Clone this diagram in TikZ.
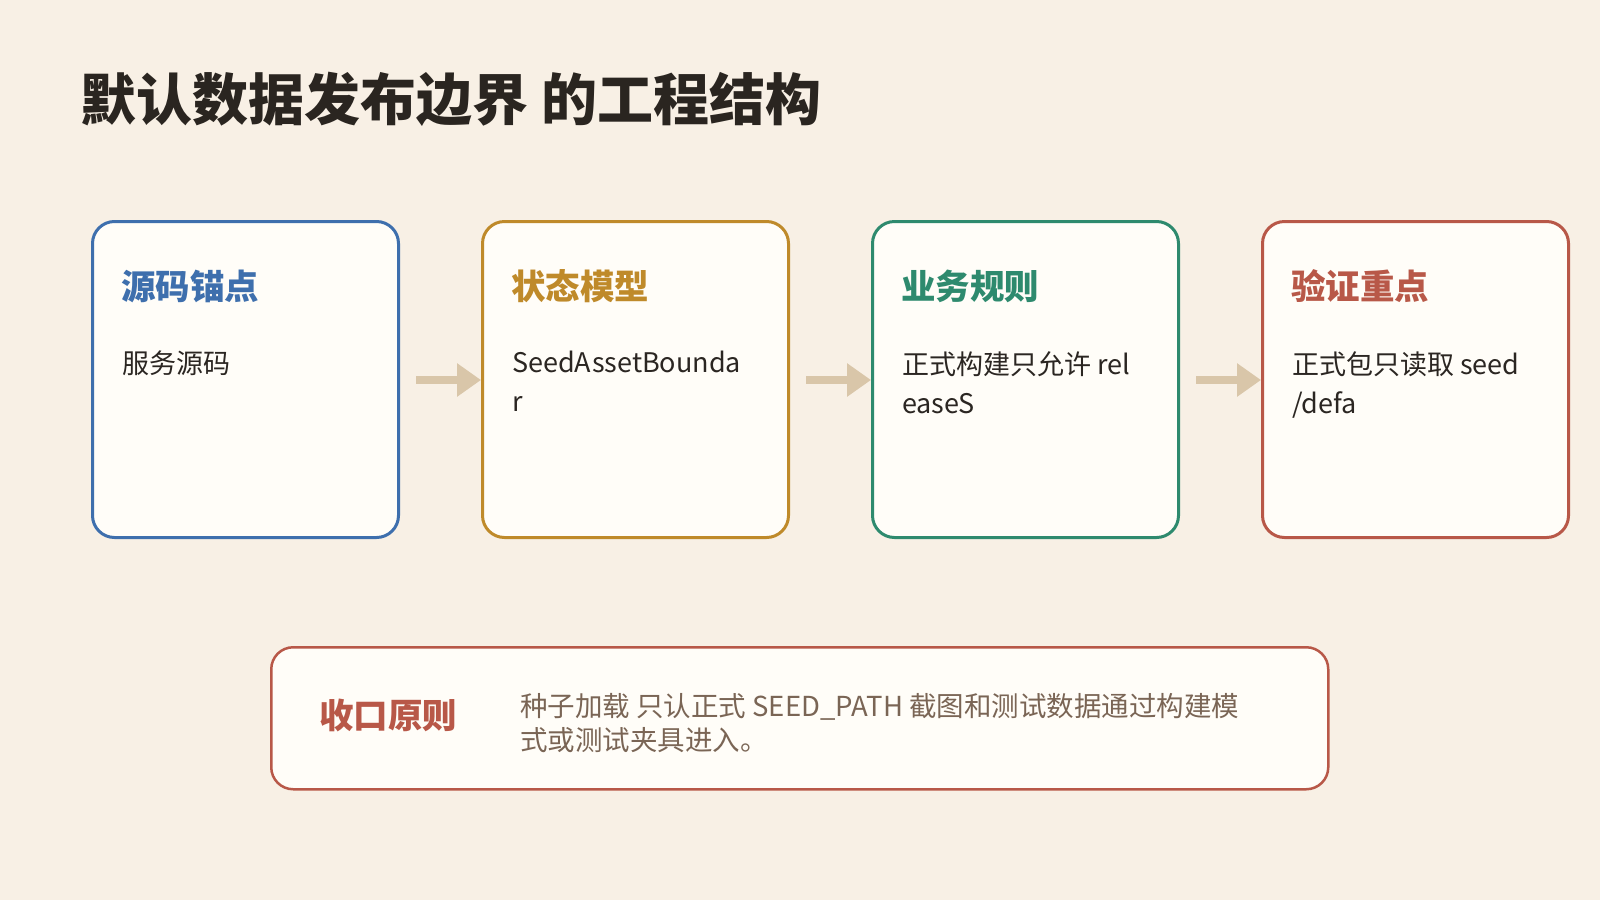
\documentclass[tikz,border=0pt]{standalone}
\usepackage{fontspec}
\setmainfont{Noto Sans CJK SC}
\usetikzlibrary{arrows.meta}
\definecolor{bg}{HTML}{F8F0E5}
\definecolor{cardfill}{HTML}{FFFDF8}
\definecolor{cblue}{HTML}{3E6FAD}
\definecolor{cgold}{HTML}{BF8A2A}
\definecolor{cgreen}{HTML}{2E8A6E}
\definecolor{cred}{HTML}{B85848}
\definecolor{titlec}{HTML}{2A2520}
\definecolor{bodyc}{HTML}{2B2622}
\definecolor{notec}{HTML}{7A6555}
\definecolor{arrowc}{HTML}{D9C6A9}
\tikzset{
  card/.style={draw=#1, line width=3pt, fill=cardfill, rounded corners=22pt, minimum width=306pt, minimum height=316pt, anchor=north west, inner sep=0pt},
  heading/.style={text=#1, font=\fontsize{34.5}{40}\selectfont\bfseries, anchor=base west, inner sep=0pt},
  body/.style={text=bodyc, font=\fontsize{27}{39}\selectfont, anchor=north west, align=left, inner sep=0pt},
  flow/.style={draw=arrowc, line width=8pt, -{Triangle[length=24pt,width=32pt]}, shorten <=16pt},
}
\begin{document}
\begin{tikzpicture}[x=1pt,y=-1pt]
\useasboundingbox[fill=bg] (0,0) rectangle (1600,900);
\node[text=titlec, font=\fontsize{56}{64}\selectfont\bfseries, anchor=base west, inner sep=0pt] (title) at (80,120) {默认数据发布边界 的工程结构};

\node[card=cblue] (b1) at (91,220) {};
\node[card=cgold] (b2) at (481,220) {};
\node[card=cgreen] (b3) at (871,220) {};
\node[card=cred] (b4) at (1261,220) {};

\node[heading=cblue] (h1) at (121,299) {源码锚点};
\node[heading=cgold] (h2) at (511,299) {状态模型};
\node[heading=cgreen] (h3) at (901,299) {业务规则};
\node[heading=cred] (h4) at (1291,299) {验证重点};

\node[body] (t1) at (122,351) {服务源码};
\node[body] (t2) at (512,351) {SeedAssetBounda\\r};
\node[body] (t3) at (902,351) {正式构建只允许 rel\\easeS};
\node[body] (t4) at (1292,351) {正式包只读取 seed\\/defa};

\draw[flow] (b1.east |- 0,380) -- (b2.west |- 0,380);
\draw[flow] (b2.east |- 0,380) -- (b3.west |- 0,380);
\draw[flow] (b3.east |- 0,380) -- (b4.west |- 0,380);

\node[draw=cred, line width=2.5pt, fill=cardfill, rounded corners=22pt, minimum width=1057pt, minimum height=142pt, anchor=north west, inner sep=0pt] (note) at (270,646) {};
\node[heading=cred] (nh) at (319,728) {收口原则};
\node[text=notec, font=\fontsize{27.5}{34.5}\selectfont, anchor=north west, align=left, inner sep=0pt] (nt) at (520,693) {种子加载 只认正式 SEED\_PATH 截图和测试数据通过构建模\\式或测试夹具进入。};
\end{tikzpicture}
\end{document}
